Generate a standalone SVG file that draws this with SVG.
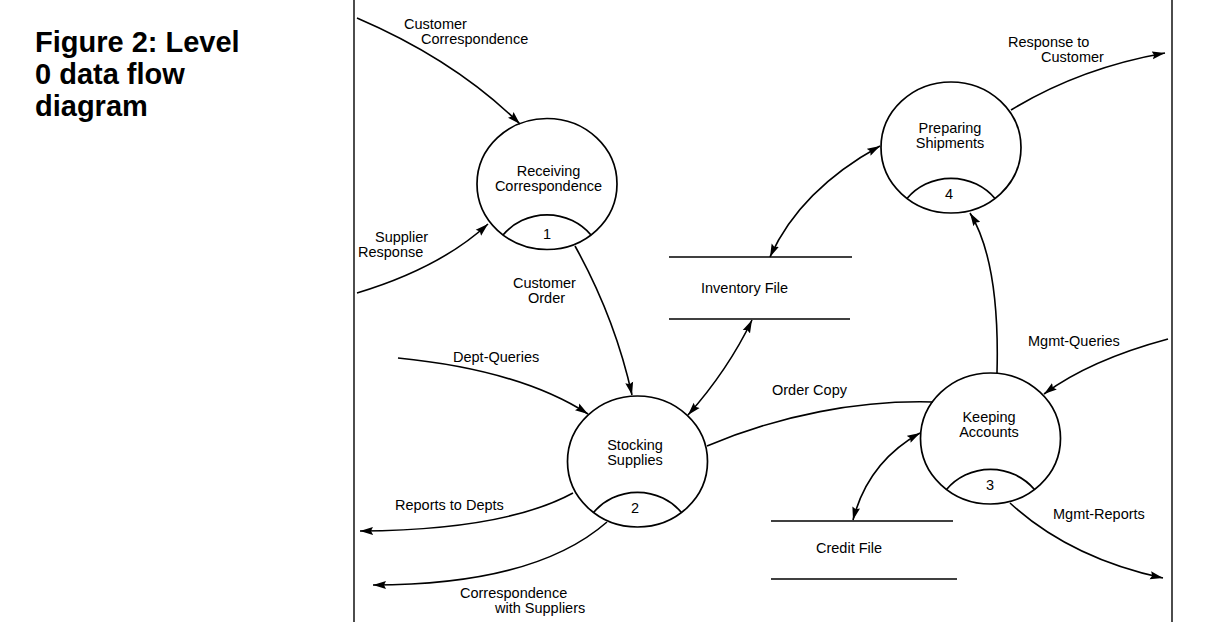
<svg xmlns="http://www.w3.org/2000/svg" width="1214" height="622" viewBox="0 0 1214 622">
<style>
.t{font-family:"Liberation Sans",Arial,sans-serif;font-size:14.5px;fill:#000}
.c{text-anchor:middle}
.title{font-family:"Liberation Sans",Arial,sans-serif;font-size:29px;font-weight:bold;fill:#000}
.p{fill:none;stroke:#000;stroke-width:1.7}
.f{fill:none;stroke:#000;stroke-width:1.6}
.s{stroke:#000;stroke-width:1.4}
</style>
<defs>
<marker id="ah" markerUnits="userSpaceOnUse" markerWidth="14" markerHeight="9" refX="13" refY="4.5" orient="auto-start-reverse">
<path d="M0,0.5 L13,4.5 L0,8.5 L2,4.5 Z" fill="#000"/>
</marker>
</defs>
<rect width="1214" height="622" fill="#fff"/>
<g id="title">
<text class="title" x="35" y="52">Figure 2: Level</text>
<text class="title" x="35" y="84">0 data flow</text>
<text class="title" x="35" y="116">diagram</text>
</g>
<g id="frame">
<line class="s" x1="354" y1="0" x2="354" y2="622"/>
<line class="s" x1="1172" y1="0" x2="1172" y2="622"/>
</g>
<g id="p1">
<ellipse class="p" cx="547" cy="184" rx="70" ry="65.5"/>
<path class="p" d="M503,235 a58,58 0 0 1 88,0"/>
<text class="t c" x="548.5" y="176">Receiving</text>
<text class="t c" x="548.5" y="191">Correspondence</text>
<text class="t c" x="547" y="238.5">1</text>
</g>
<g id="p2">
<ellipse class="p" cx="637.5" cy="461.5" rx="70" ry="65.5"/>
<path class="p" d="M593.5,512.5 a58,58 0 0 1 88,0"/>
<text class="t c" x="635" y="450">Stocking</text>
<text class="t c" x="635" y="464.5">Supplies</text>
<text class="t c" x="635" y="512.5">2</text>
</g>
<g id="p3">
<ellipse class="p" cx="990.5" cy="438.5" rx="70" ry="65.5"/>
<path class="p" d="M946.5,489.5 a58,58 0 0 1 88,0"/>
<text class="t c" x="989" y="421.5">Keeping</text>
<text class="t c" x="989" y="437">Accounts</text>
<text class="t c" x="990" y="490">3</text>
</g>
<g id="p4">
<ellipse class="p" cx="951" cy="147.5" rx="70" ry="65.5"/>
<path class="p" d="M907,198.5 a58,58 0 0 1 88,0"/>
<text class="t c" x="950" y="133">Preparing</text>
<text class="t c" x="950" y="148">Shipments</text>
<text class="t c" x="949" y="199">4</text>
</g>
<g id="inventory">
<line class="s" x1="669" y1="257" x2="852" y2="257"/>
<line class="s" x1="669" y1="319" x2="850" y2="319"/>
<text class="t" x="701" y="293">Inventory File</text>
</g>
<g id="credit">
<line class="s" x1="771" y1="521" x2="953" y2="521"/>
<line class="s" x1="771" y1="579" x2="957" y2="579"/>
<text class="t" x="816" y="553">Credit File</text>
</g>
<g id="connectors">
<path class="f" d="M357,18 Q455,60 520,124" marker-end="url(#ah)"/>
<path class="f" d="M357,293 Q440,268 488,224" marker-end="url(#ah)"/>
<path class="f" d="M575,246 Q615,318 632,395" marker-end="url(#ah)"/>
<path class="f" d="M398,358 Q520,370 588,414" marker-end="url(#ah)"/>
<path class="f" d="M752,320 Q728,370 688,415" marker-start="url(#ah)" marker-end="url(#ah)"/>
<path class="f" d="M770,257 Q800,190 880,146" marker-start="url(#ah)" marker-end="url(#ah)"/>
<path class="f" d="M1011,110 Q1080,68 1165,53" marker-end="url(#ah)"/>
<path class="f" d="M997,373 Q1000,262 970,213" marker-end="url(#ah)"/>
<path class="f" d="M707,446 C780,415 860,400 933,402"/>
<path class="f" d="M1168,339 Q1090,360 1044,394" marker-end="url(#ah)"/>
<path class="f" d="M1010,503 Q1070,558 1163,578" marker-end="url(#ah)"/>
<path class="f" d="M853,520 Q868,462 920,433" marker-start="url(#ah)" marker-end="url(#ah)"/>
<path class="f" d="M573,493 Q505,530 360,531" marker-end="url(#ah)"/>
<path class="f" d="M607,522 Q535,585 373,585" marker-end="url(#ah)"/>
</g>
<g id="labels">
<text class="t" x="404" y="29">Customer</text>
<text class="t" x="421" y="44">Correspondence</text>
<text class="t" x="375" y="242">Supplier</text>
<text class="t" x="358" y="257">Response</text>
<text class="t" x="513" y="288">Customer</text>
<text class="t" x="528" y="303">Order</text>
<text class="t" x="453" y="362">Dept-Queries</text>
<text class="t" x="395" y="510">Reports to Depts</text>
<text class="t" x="460" y="598">Correspondence</text>
<text class="t" x="495" y="613">with Suppliers</text>
<text class="t" x="772" y="395">Order Copy</text>
<text class="t" x="1008" y="47">Response to</text>
<text class="t" x="1041" y="62">Customer</text>
<text class="t" x="1028" y="346">Mgmt-Queries</text>
<text class="t" x="1053" y="519">Mgmt-Reports</text>
</g>
</svg>
